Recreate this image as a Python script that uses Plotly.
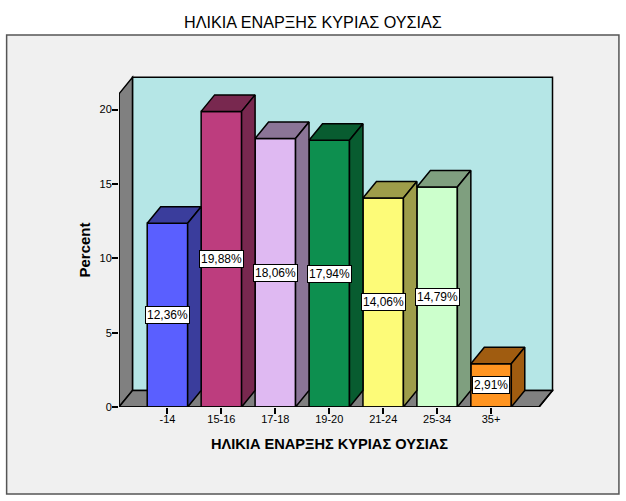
import plotly.graph_objects as go

categories = ["-14", "15-16", "17-18", "19-20", "21-24", "25-34", "35+"]
percent = [12.36, 19.88, 18.06, 17.94, 14.06, 14.79, 2.91]
front_colors = ["#5a5fff", "#bd3d7e", "#dfb9f2", "#0d8f4f", "#fdfb78", "#ccffcc", "#ff9420"]
shade_colors = ["#3a3d9c", "#78284f", "#8b7597", "#085c30", "#9e9d4a", "#7f9f7f", "#a05c10"]
y_ticks = [0, 5, 10, 15, 20]

title_text = "ΗΛΙΚΙΑ ΕΝΑΡΞΗΣ ΚΥΡΙΑΣ ΟΥΣΙΑΣ"
font_name = "Liberation Sans"

# the fake 3d look: how far the depth goes, in axis units
bar_w = 0.75
dx = 0.25
dy = 1.11
left, right = -0.898, 6.889
wall_top = 21.06

# plot area in pixels, the walls sit inside it
W, H = 626, 501
px_l, px_r, px_t, px_b = 118.5, 560, 70, 407

fig = go.Figure()

fig.add_trace(go.Bar(
    x=list(range(len(categories))),
    y=percent,
    width=bar_w,
    marker=dict(color=front_colors, line=dict(color="black", width=1.5)),
    cliponaxis=False,
    hoverinfo="skip",
))

# top and side faces of each bar
for i, v in enumerate(percent):
    x0 = i - bar_w / 2
    x1 = i + bar_w / 2
    top_x = [x0, x0 + dx, x1 + dx, x1, x0]
    top_y = [v, v + dy, v + dy, v, v]
    side_x = [x1, x1 + dx, x1 + dx, x1, x1]
    side_y = [v, v + dy, dy, 0, v]
    for xs, ys in [(top_x, top_y), (side_x, side_y)]:
        fig.add_trace(go.Scatter(
            x=xs, y=ys, mode="lines", fill="toself",
            fillcolor=shade_colors[i],
            line=dict(color="black", width=1.5),
            cliponaxis=False,
            hoverinfo="skip",
        ))

# front edges of left wall and floor
fig.add_trace(go.Scatter(
    x=[left, left, right, right + dx],
    y=[wall_top, 0, 0, dy],
    mode="lines",
    line=dict(color="black", width=1.5),
    cliponaxis=False,
    hoverinfo="skip",
))


def poly(xs, ys):
    return "M " + " L ".join(f"{a},{b}" for a, b in zip(xs, ys)) + " Z"


def px_x(p):
    return (p - px_l) / (px_r - px_l)


def px_y(p):
    return (px_b - p) / (px_b - px_t)


shapes = [
    # outer panel
    dict(type="rect", xref="paper", yref="paper", layer="below",
         x0=px_x(6), x1=px_x(619), y0=px_y(494), y1=px_y(35),
         fillcolor="#f0f0f0", line=dict(color="#555555", width=1.5)),
    # back wall
    dict(type="rect", xref="x", yref="y", layer="below",
         x0=left + dx, x1=right + dx, y0=dy, y1=wall_top + dy,
         fillcolor="#b5e6e6", line=dict(color="black", width=1.5)),
    # left wall
    dict(type="path", xref="x", yref="y", layer="below",
         path=poly([left, left + dx, left + dx, left], [0, dy, wall_top + dy, wall_top]),
         fillcolor="#808080", line=dict(color="black", width=1.5)),
    # floor
    dict(type="path", xref="x", yref="y", layer="below",
         path=poly([left, left + dx, right + dx, right], [0, dy, dy, 0]),
         fillcolor="#808080", line=dict(color="black", width=1.5)),
]

# value labels in the middle of each bar
for i, v in enumerate(percent):
    fig.add_annotation(
        x=i, y=v / 2, xref="x", yref="y",
        text=f"{v:.2f}".replace(".", ",") + "%",
        showarrow=False,
        font=dict(family=font_name, size=12, color="black"),
        bgcolor="white", bordercolor="black", borderwidth=1, borderpad=1,
    )

fig.add_annotation(x=px_x(313), y=px_y(22), xref="paper", yref="paper", text=title_text,
                   xanchor="center", yanchor="middle", showarrow=False,
                   font=dict(family=font_name, size=16.2, color="black"))
fig.add_annotation(x=px_x(329), y=px_y(444), xref="paper", yref="paper", text="<b>" + title_text + "</b>",
                   xanchor="center", yanchor="middle", showarrow=False,
                   font=dict(family=font_name, size=14.6, color="black"))
fig.add_annotation(x=px_x(83), y=px_y(250), xref="paper", yref="paper", text="<b>Percent</b>",
                   xanchor="center", yanchor="middle", textangle=-90, showarrow=False,
                   font=dict(family=font_name, size=15, color="black"))

fig.update_layout(
    width=W, height=H,
    margin=dict(l=px_l, r=W - px_r, t=px_t, b=H - px_b, pad=0),
    paper_bgcolor="white",
    plot_bgcolor="rgba(0,0,0,0)",
    showlegend=False,
    shapes=shapes,
    font=dict(family=font_name, size=11, color="black"),
    xaxis=dict(
        range=[left, left + (px_r - px_l) / 54],
        tickvals=list(range(len(categories))), ticktext=categories,
        ticks="outside", ticklen=6, tickwidth=1.5, tickcolor="black",
        ticklabelstandoff=-4,
        showgrid=False, zeroline=False, showline=False,
        tickfont=dict(family=font_name, size=11, color="black"),
    ),
    yaxis=dict(
        range=[0, (px_b - px_t) / 14.87],
        tickvals=y_ticks,
        ticks="outside", ticklen=6, tickwidth=1.5, tickcolor="black",
        ticklabelstandoff=-2,
        showgrid=False, zeroline=False, showline=False,
        tickfont=dict(family=font_name, size=11, color="black"),
    ),
)

fig.write_html("out.html", config={"displayModeBar": False},
               post_script="document.body.style.margin='0';")
